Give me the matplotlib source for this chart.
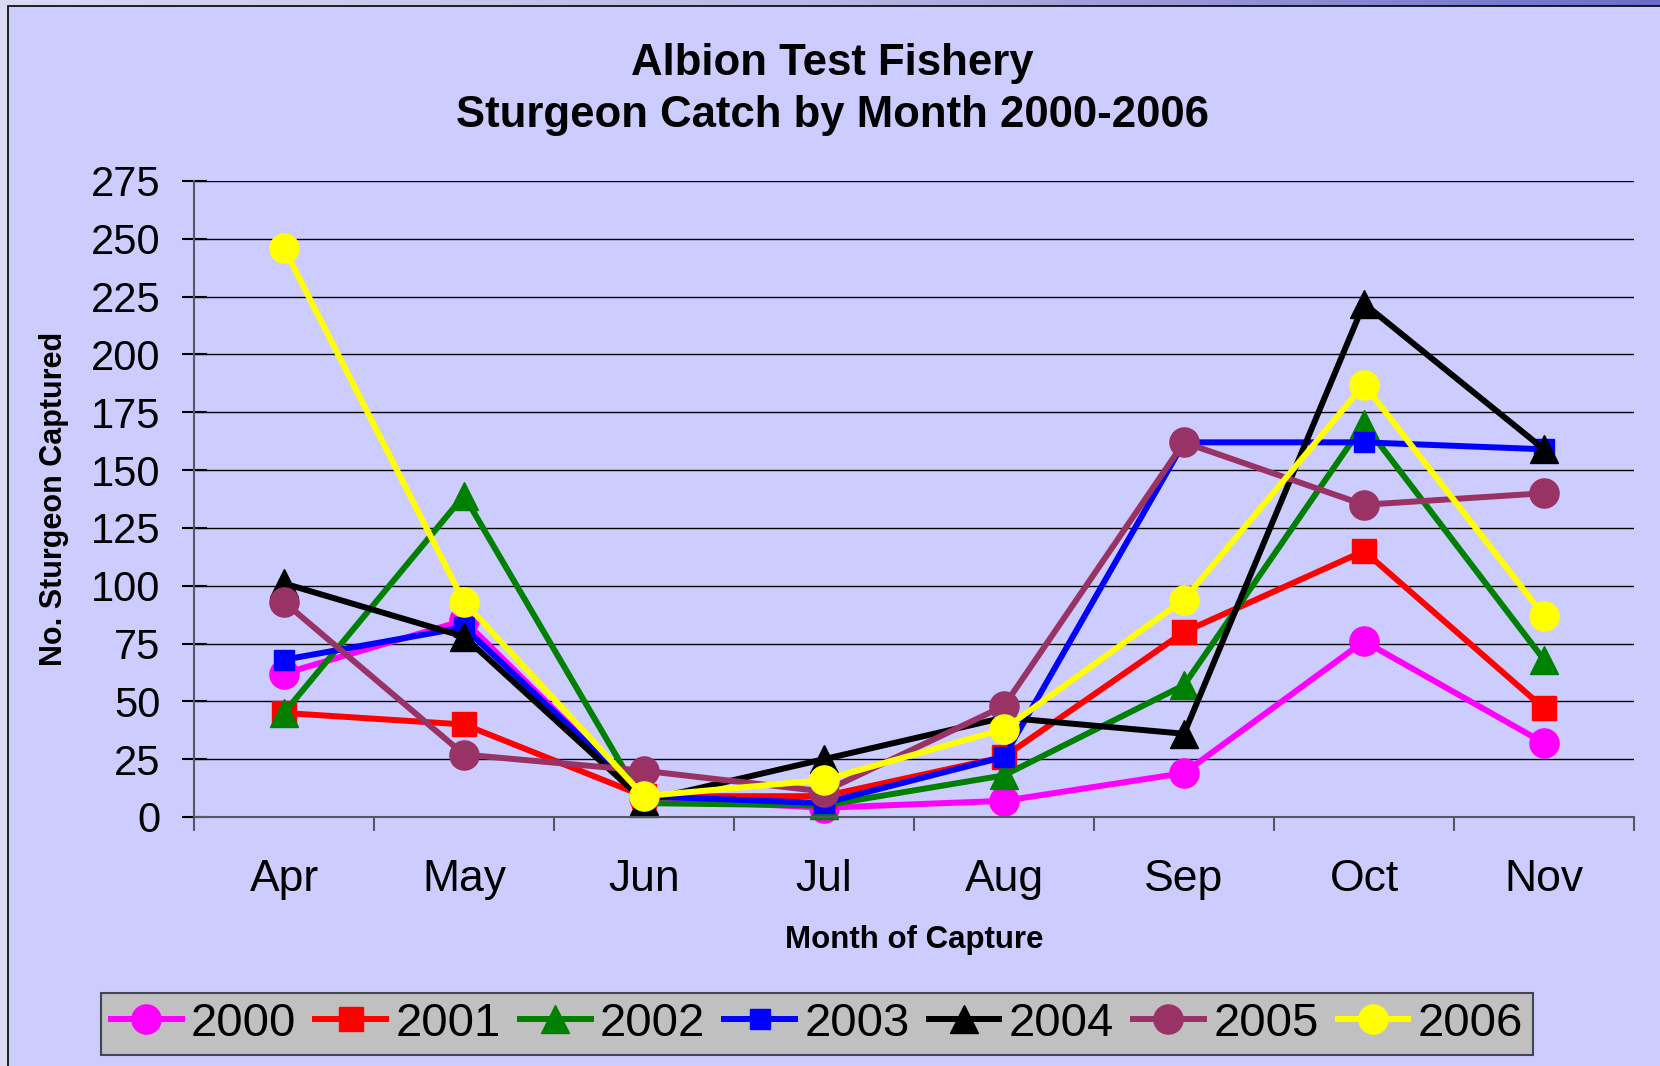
import numpy as np
import matplotlib
matplotlib.use("Agg")
import matplotlib.pyplot as plt
from matplotlib.patches import Rectangle

plt.rcParams['font.family'] = ['Liberation Sans', 'DejaVu Sans']

months = ['Apr', 'May', 'Jun', 'Jul', 'Aug', 'Sep', 'Oct', 'Nov']
years = ['2000', '2001', '2002', '2003', '2004', '2005', '2006']

c2000 = [62, 85, 8, 4, 7, 19, 76, 32]
c2001 = [45, 40, 9, 9, 26, 80, 115, 47]
c2002 = [45, 139, 6, 5, 18, 57, 170, 68]
c2003 = [68, 82, 9, 6, 26, 162, 162, 159]
c2004 = [101, 78, 7, 25, 43, 36, 222, 159]
c2005 = [93, 27, 20, 11, 48, 162, 135, 140]
c2006 = [246, 93, 9, 16, 38, 94, 187, 87]

series = [c2000, c2001, c2002, c2003, c2004, c2005, c2006]
colors = ['#FF00FF', '#FF0000', '#008000', '#0000FF', '#000000', '#993366', '#FFFF00']
markers = ['o', 's', '^', 's', '^', 'o', 'o']
msizes = [21, 17, 20, 14, 20, 21, 21]

fig = plt.figure(figsize=(16.6, 10.66), dpi=100)

# background: streaky blue gradient behind the panel
bg = fig.add_axes([0, 0, 1, 1], zorder=-10)
gx = np.linspace(0, 1, 400)
grad = np.tile(gx, (50, 1))
cmap = matplotlib.colors.LinearSegmentedColormap.from_list('bgc', ['#DADAF0', '#B8B8E4', '#6C6CC8'])
bg.imshow(grad, cmap=cmap, aspect='auto', extent=[0, 1, 0, 1])
bg.set_xlim(0, 1)
bg.set_ylim(0, 1)
bg.axis('off')
fig.patches.append(Rectangle((8 / 1660, -0.01), 1.0, 1 - 6 / 1066 + 0.01, transform=fig.transFigure,
                             facecolor='#CCCCFF', edgecolor='black', lw=1.2, zorder=-5))

ax = fig.add_axes([194 / 1660, 249 / 1066, 1440 / 1660, 636 / 1066])
ax.set_facecolor('#CCCCFF')
x = np.arange(1, len(months) + 1)

for vals, yr, col, mk, ms in zip(series, years, colors, markers, msizes):
    ax.plot(x, vals, color=col, lw=4.3, marker=mk, markersize=ms,
            markerfacecolor=col, markeredgecolor=col, label=yr, clip_on=False)

ax.set_xlim(0.5, len(months) + 0.5)
ax.set_ylim(0, 275)
ax.set_yticks(np.arange(0, 276, 25))
ax.yaxis.grid(True, color='black', lw=1.0)
ax.set_axisbelow(True)
ax.set_xticks(np.arange(0.5, len(months) + 1, 1.0))
ax.set_xticklabels([])
ax.set_xticks(x, minor=True)
ax.set_xticklabels(months, minor=True)
ax.tick_params(axis='x', which='minor', length=0, pad=30, labelsize=32)
ax.tick_params(axis='x', which='major', direction='out', length=10, width=1.5, color='#555566')
ax.tick_params(axis='y', direction='inout', length=18, width=1.5, labelsize=30, pad=15)

for s in ['top', 'right']:
    ax.spines[s].set_visible(False)
for s in ['left', 'bottom']:
    ax.spines[s].set_color('#555566')
    ax.spines[s].set_linewidth(1.5)

ax.set_xlabel('Month of Capture', fontsize=22.5, fontweight='bold', labelpad=18)
ax.set_ylabel('No. Sturgeon Captured', fontsize=22, fontweight='bold', labelpad=16)

fig.text(832 / 1660, 1 - 64 / 1066, 'Albion Test Fishery', ha='center', va='center',
         fontsize=31.5, fontweight='bold')
fig.text(832 / 1660, 1 - 116 / 1066, 'Sturgeon Catch by Month 2000-2006', ha='center', va='center',
         fontsize=31.5, fontweight='bold')

leg = fig.legend(loc='center', bbox_to_anchor=(817 / 1660, 42 / 1066), ncol=7, fontsize=34,
                 frameon=True, fancybox=False, handlelength=1.5, handletextpad=0.2,
                 columnspacing=0.4, borderpad=0.2, borderaxespad=0)
leg.get_frame().set_facecolor('#C0C0C0')
leg.get_frame().set_edgecolor('#444455')
leg.get_frame().set_linewidth(1.5)
leg.get_frame().set_alpha(1)

fig.savefig('out.png', dpi=100)
